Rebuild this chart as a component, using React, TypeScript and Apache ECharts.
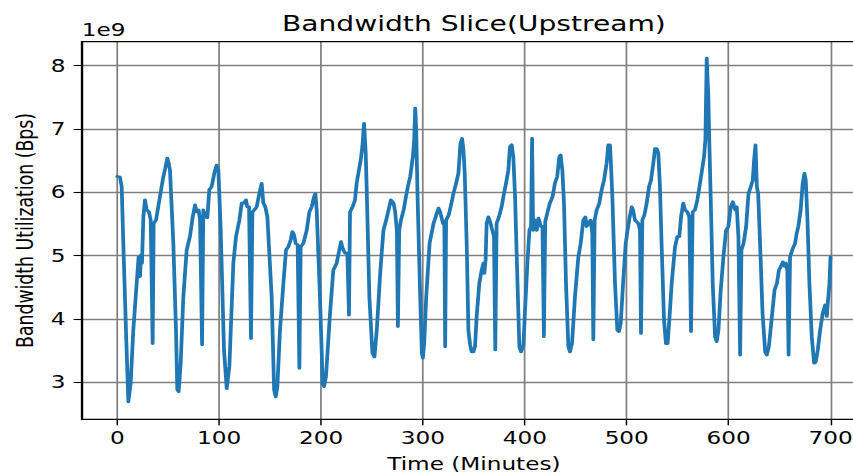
import React, { useEffect, useRef } from 'react';
import * as echarts from 'echarts';

const TITLE = 'Bandwidth Slice(Upstream)';
const X_NAME = 'Time (Minutes)';
const Y_NAME = 'Bandwidth Utilization (Bps)';
const Y_SCALE_LABEL = '1e9';
const X_TICKS = [0, 100, 200, 300, 400, 500, 600, 700];
const Y_TICKS = [3, 4, 5, 6, 7, 8];

// time in minutes
const minutes = [
  0, 2.6, 4.3, 5.9, 8.5, 10.8, 13.1, 15.7, 19, 20.9, 22.3, 23.3, 24.2, 25.6, 27.2, 28.8, 31.1, 32.8, 34.7, 35.7,
  38, 41.3, 43.5, 45.2, 47.1, 49.1, 50.4, 51.7, 55, 57.6, 58.9, 60.2, 62.2, 64.8, 68.1, 71.3, 74, 76.3, 77.9, 79.9,
  81.2, 83.2, 84.4, 86.4, 88.4, 90.3, 92.6, 95.2, 97.5, 99.2, 101.5, 104.7, 107.4, 110, 113.9, 116.5, 119.8, 122.1, 124.4, 126.3,
  127.6, 129.3, 131.2, 132.6, 134.5, 136.8, 139.4, 141.7, 143.3, 145.3, 147.3, 151.5, 153.9, 155.5, 157.1, 159.7, 163, 165.6, 167.9, 170.2,
  171.8, 173.5, 175.1, 177, 178.7, 180, 182.6, 185.9, 188.5, 190.8, 193.1, 194.4, 195.7, 198.9, 201.6, 202.9, 204.8, 208.8, 212, 215.3,
  217.9, 219.6, 221.2, 223.5, 225.8, 227.4, 228.4, 231, 233.3, 234.9, 236.6, 238.9, 240.5, 242.2, 243.8, 244.8, 247.4, 250.4, 252.4, 254.7,
  258, 261.2, 263.9, 266.2, 268.5, 271.1, 272.7, 274.4, 275.4, 276.7, 278.4, 281, 283.3, 285.2, 287.5, 290.1, 291.4, 292.4, 293.4, 294.7,
  297.3, 298.9, 299.9, 301.2, 303.2, 306.5, 310.4, 313, 315.3, 316.9, 319.6, 321, 321.8, 322.7, 325.3, 328, 329.9, 332.5, 334.8, 336.8,
  338.4, 339.7, 341, 343, 344.6, 346.2, 347.8, 349.5, 351.1, 352.7, 355.3, 357.6, 359.3, 360.2, 361.5, 362.5, 364.2, 365.8, 368.1, 369.7,
  371, 372.3, 374.6, 377.2, 379.5, 381.5, 383.8, 385.4, 387.1, 388.7, 390.4, 392.7, 394.6, 396.3, 398.6, 400.2, 402.5, 404.5, 406.1, 407.1,
  408.1, 410.1, 411.7, 413.4, 415.7, 417.3, 418.7, 420, 422, 424.6, 427.2, 429.5, 431.8, 433.8, 435.1, 436.8, 438.4, 440.4, 442.7, 444.3,
  446.3, 449.2, 452.5, 454.8, 457.4, 459.4, 460.7, 462.6, 464.6, 466.2, 467.2, 468.5, 470.5, 473.1, 475.4, 477.7, 480.3, 481.9, 483.5, 484.2,
  485.9, 488.5, 490.8, 492.4, 494.1, 496.4, 499, 500.6, 502.9, 504.9, 506.2, 508.1, 511.4, 513, 514, 515.3, 517.3, 519.6, 521.9, 523.8,
  526.1, 527.8, 529.4, 531, 532.6, 534.3, 536.6, 538.5, 540.1, 541.8, 544.1, 547.4, 549.7, 551.6, 553.3, 555.5, 557.2, 559.5, 561.4, 563.1,
  564.7, 567, 569.3, 571.9, 573.9, 575.9, 577.2, 578.5, 580.1, 581.1, 582.4, 584.4, 586.7, 588.3, 590, 592.3, 594.9, 597.5, 599.8, 602.1,
  604.1, 606.4, 608, 609.6, 611.3, 612.6, 614.6, 617.2, 619.5, 621.8, 623.7, 625, 626.4, 627.7, 629, 631, 633.3, 635.9, 637.5, 639.5,
  642.5, 645.1, 647.4, 649.4, 651.3, 653.3, 654.9, 656.3, 657.6, 658.9, 660.3, 662.9, 665.2, 666.8, 668.4, 670.7, 672.7, 674.4, 675.7, 677.3,
  679.3, 681.6, 683.9, 685.5, 687.5, 689.8, 692.4, 694.7, 696.4, 697.3, 699, 700,
];

// bandwidth utilization, in units of 1e9 Bps
const bandwidth = [
  6.25, 6.24, 6.09, 5.19, 3.83, 2.69, 2.98, 3.82, 4.56, 4.98, 4.67, 5.01, 4.88, 5.62, 5.88, 5.72, 5.69, 5.56, 3.61, 5.51,
  5.56, 5.88, 6.09, 6.25, 6.38, 6.54, 6.46, 6.35, 5.19, 3.82, 2.88, 2.85, 3.3, 4.35, 5.09, 5.3, 5.61, 5.8, 5.69, 5.72,
  5.56, 3.59, 5.72, 5.61, 5.6, 6.04, 6.09, 6.3, 6.43, 6.35, 5.4, 3.51, 2.9, 3.25, 4.88, 5.3, 5.56, 5.83, 5.83, 5.88,
  5.77, 5.77, 3.69, 5.69, 5.72, 5.77, 5.98, 6.14, 5.83, 5.77, 5.61, 4.35, 2.88, 2.77, 2.93, 3.83, 4.56, 5.09, 5.14, 5.25,
  5.38, 5.33, 5.19, 5.17, 3.22, 5.14, 5.19, 5.4, 5.69, 5.77, 5.93, 5.98, 5.72, 4.35, 2.98, 2.93, 3.09, 4.09, 4.77, 4.88,
  5.09, 5.22, 5.11, 5.04, 5.04, 4.06, 5.69, 5.77, 5.88, 6.14, 6.3, 6.51, 6.72, 7.09, 6.62, 6.04, 4.35, 3.46, 3.4, 3.83,
  4.72, 5.4, 5.56, 5.72, 5.88, 5.83, 5.69, 5.4, 3.88, 5.4, 5.56, 5.72, 5.93, 6.09, 6.25, 6.56, 6.83, 7.33, 6.98, 5.93,
  4.35, 3.46, 3.38, 3.61, 4.35, 5.19, 5.51, 5.64, 5.75, 5.69, 5.51, 5.48, 3.56, 5.56, 5.64, 5.83, 5.98, 6.14, 6.3, 6.77,
  6.85, 6.67, 6.3, 5.14, 3.82, 3.6, 3.48, 3.48, 3.56, 4.04, 4.56, 4.77, 4.88, 4.72, 4.94, 5.51, 5.61, 5.54, 5.4, 5.3,
  3.51, 5.51, 5.61, 5.77, 5.98, 6.14, 6.35, 6.72, 6.75, 6.56, 5.93, 4.61, 3.56, 3.48, 3.59, 4.14, 4.88, 5.4, 5.46, 6.85,
  5.4, 5.56, 5.4, 5.59, 5.46, 5.46, 3.72, 5.54, 5.67, 5.83, 5.93, 6.14, 6.25, 6.56, 6.59, 6.35, 5.83, 4.56, 3.56, 3.48,
  3.61, 4.35, 4.98, 5.19, 5.56, 5.61, 5.46, 5.51, 5.56, 5.35, 3.67, 5.56, 5.72, 5.83, 6.04, 6.19, 6.46, 6.75, 6.75, 6.56,
  5.93, 4.56, 3.82, 3.8, 3.93, 4.56, 5.19, 5.38, 5.61, 5.77, 5.72, 5.56, 5.51, 5.4, 3.77, 5.56, 5.64, 5.83, 6.09, 6.19,
  6.46, 6.69, 6.69, 6.62, 6.09, 5.14, 3.98, 3.61, 3.61, 3.98, 4.56, 5.14, 5.3, 5.3, 5.61, 5.83, 5.72, 5.69, 5.61, 3.8,
  5.69, 5.72, 5.88, 6.14, 6.35, 6.56, 6.83, 8.12, 7.51, 6.77, 5.93, 4.56, 3.72, 3.64, 3.82, 4.46, 4.98, 5.4, 5.46, 5.77,
  5.85, 5.72, 5.77, 5.3, 3.43, 5.09, 5.19, 5.46, 5.98, 6.09, 6.19, 6.51, 6.75, 6.09, 5.98, 5.14, 4.09, 3.48, 3.43, 3.56,
  4.04, 4.46, 4.56, 4.77, 4.83, 4.9, 4.83, 4.88, 4.77, 3.43, 4.98, 5.11, 5.19, 5.35, 5.46, 5.72, 6.14, 6.3, 6.19, 5.61,
  4.56, 3.72, 3.3, 3.32, 3.51, 3.82, 4.09, 4.22, 4.04, 4.25, 4.56, 4.98,
];

const STRETCH = 1.34;
const CW = 660;
const CH = 473;
const GRID_LEFT = 60.93;
const GRID_TOP = 41.7;
const GRID_W = 585.46;
const GRID_H = 377.6;
const FONT = 'DejaVu Sans';

export default function App() {
  const ref = useRef<HTMLDivElement>(null);

  useEffect(() => {
    if (!ref.current) return;
    const chart = echarts.init(ref.current, null, { renderer: 'svg', width: CW, height: CH });
    const data = minutes.map((m, i) => [m, bandwidth[i]]);
    const axisText = { color: '#000', fontSize: 17.3, fontFamily: FONT };
    const textStyle = (text: string, size: number, align: string) => ({
      text,
      fill: '#000',
      fontSize: size,
      fontFamily: FONT,
      align,
      verticalAlign: 'middle',
      textAlign: align,
      textVerticalAlign: 'middle',
    });
    chart.setOption({
      animation: false,
      backgroundColor: '#fff',
      grid: {
        left: GRID_LEFT,
        top: GRID_TOP,
        width: GRID_W,
        height: GRID_H,
        containLabel: false,
        outerBoundsMode: 'none',
      },
      xAxis: {
        type: 'value',
        min: -35,
        max: 735,
        splitNumber: 8,
        axisLine: { show: true, onZero: false, lineStyle: { color: '#000', width: 1.2 } },
        axisTick: { show: true, length: 6, customValues: X_TICKS, lineStyle: { color: '#000', width: 1.1 } },
        axisLabel: { ...axisText, margin: 10, customValues: X_TICKS, formatter: (v: number) => String(v) },
        splitLine: { show: true, lineStyle: { color: '#808080', width: 1.3 } },
      },
      yAxis: {
        type: 'value',
        min: 2.414,
        max: 8.379,
        splitNumber: 5,
        axisLine: { show: true, onZero: false, lineStyle: { color: '#000', width: 1.2 } },
        axisTick: { show: true, length: 6, customValues: Y_TICKS, lineStyle: { color: '#000', width: 1.1 } },
        axisLabel: { ...axisText, margin: 12, customValues: Y_TICKS, formatter: (v: number) => String(v) },
        splitLine: { show: true, lineStyle: { color: '#808080', width: 1.3 } },
      },
      series: [
        {
          type: 'line',
          data,
          showSymbol: false,
          symbol: 'none',
          lineStyle: { color: '#1f77b4', width: 2.8, join: 'round', cap: 'round' },
          z: 3,
        },
      ],
      graphic: [
        {
          type: 'rect',
          silent: true,
          z: 100,
          shape: { x: GRID_LEFT, y: GRID_TOP, width: GRID_W, height: GRID_H },
          style: { fill: 'none', stroke: '#000', lineWidth: 1.2 },
        },
        { type: 'text', z: 100, x: 353.66, y: 24.3, style: textStyle(TITLE, 21, 'center') },
        { type: 'text', z: 100, x: 61, y: 30.5, style: textStyle(Y_SCALE_LABEL, 17.3, 'left') },
        { type: 'text', z: 100, x: 18.9, y: 230.5, rotation: Math.PI / 2, style: textStyle(Y_NAME, 17.3, 'center') },
        { type: 'text', z: 100, x: 353.66, y: 464, style: textStyle(X_NAME, 17.3, 'center') },
      ],
    });
    return () => chart.dispose();
  }, []);

  return (
    <div
      style={{
        position: 'fixed',
        left: 0,
        top: 0,
        width: 853,
        height: 473,
        overflow: 'hidden',
        background: '#fff',
      }}
    >
      <div
        ref={ref}
        style={{
          position: 'absolute',
          left: 0,
          top: 0,
          width: CW,
          height: CH,
          transform: `scaleX(${STRETCH})`,
          transformOrigin: '0 0',
        }}
      />
    </div>
  );
}
